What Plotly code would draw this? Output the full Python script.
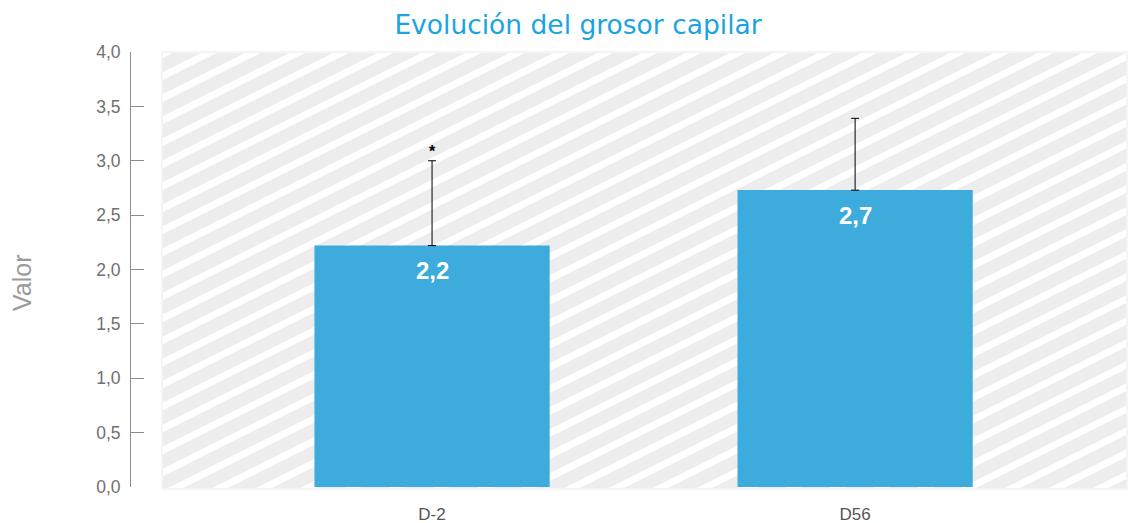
import base64
import plotly.graph_objects as go

# ---- data ----
categories = ["D-2", "D56"]
values = [2.22, 2.73]
errors_plus = [0.78, 0.66]
significance = ["*", ""]
y_ticks = [0, 0.5, 1, 1.5, 2, 2.5, 3, 3.5, 4]

BAR_COLOR = "#3dacdc"

# ---- hatched background as an SVG image ----
W, H = 967, 439
svg = f'''<svg xmlns="http://www.w3.org/2000/svg" width="{W}" height="{H}" viewBox="0 0 {W} {H}">
<defs><pattern id="p" patternUnits="userSpaceOnUse" width="40" height="19.7" patternTransform="rotate(-26.57)">
<rect width="40" height="19.7" fill="#ededed"/><rect y="0" width="40" height="7" fill="#ffffff"/></pattern></defs>
<rect width="{W}" height="{H}" fill="#f5f5f5"/>
<rect x="2" y="2" width="{W-4}" height="{H-4}" fill="url(#p)"/></svg>'''
svg_uri = "data:image/svg+xml;base64," + base64.b64encode(svg.encode()).decode()

fig = go.Figure()
fig.add_trace(go.Bar(
    x=categories, y=values, width=0.556,
    marker=dict(color=BAR_COLOR, line=dict(width=0)),
    error_y=dict(type="data", symmetric=False, array=errors_plus,
                 arrayminus=[0] * len(values), color="black", thickness=1, width=4),
    hoverinfo="skip",
))

annotations = []
for c, v, e, s in zip(categories, values, errors_plus, significance):
    annotations.append(dict(
        x=c, y=v, xref="x", yref="y", text=f"<b>{v:.1f}</b>".replace(".", ","),
        showarrow=False, yanchor="middle", yshift=-25,
        font=dict(family="Liberation Sans", size=24, color="white")))
    if s:
        annotations.append(dict(
            x=c, y=v + e, xref="x", yref="y", text=f"<b>{s}</b>", showarrow=False,
            yanchor="middle", yshift=9,
            font=dict(family="Liberation Sans", size=16, color="black")))

annotations.append(dict(
    x=(22 - 131) / 997, y=(487 - 283) / 435, xref="paper", yref="paper",
    text="Valor", textangle=-90, showarrow=False, xanchor="center", yanchor="middle",
    font=dict(family="Liberation Sans", size=25, color="#9a9a9a")))

fig.update_layout(
    width=1131, height=523,
    margin=dict(l=131, r=3, t=52, b=36),
    paper_bgcolor="white", plot_bgcolor="rgba(0,0,0,0)",
    separators=",.",
    showlegend=False,
    title=dict(text="Evolución del grosor capilar", xref="container", x=578 / 1131,
               xanchor="center", y=1 - 25 / 523, yanchor="middle",
               font=dict(family="DejaVu Sans", size=26.5, color="#1aa5e0")),
    images=[dict(source=svg_uri, xref="paper", yref="paper",
                 x=(161 - 131) / 997, y=(487 - 51) / 435,
                 sizex=967 / 997, sizey=439 / 435, sizing="stretch",
                 xanchor="left", yanchor="top", layer="below")],
    annotations=annotations,
    xaxis=dict(range=[-0.7116, 1.645], showgrid=False, zeroline=False, showline=False,
               automargin=False,
               ticks="outside", ticklen=12, tickcolor="rgba(0,0,0,0)",
               tickfont=dict(family="Liberation Sans", size=17, color="#555555")),
    yaxis=dict(range=[0, 4], tickvals=y_ticks, tickformat=".1f", showgrid=False,
               automargin=False,
               zeroline=False, showline=True, linecolor="#8c8c8c", linewidth=1,
               ticks="inside", ticklen=13, tickcolor="#8c8c8c", tickwidth=1,
               ticklabelstandoff=6,
               tickfont=dict(family="Liberation Sans", size=17.5, color="#707070")),
)

fig.write_html("out.html", config={"displayModeBar": False},
               post_script="document.body.style.margin='0';")
